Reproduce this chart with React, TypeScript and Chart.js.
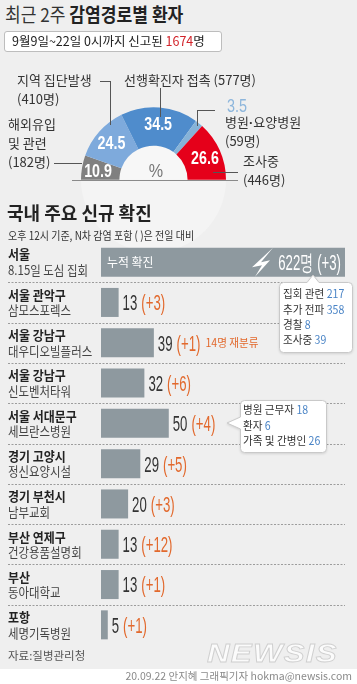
import React, { useEffect, useRef } from "react";
import { Chart, registerables } from "chart.js";

Chart.register(...registerables);

const KR = "'Noto Sans CJK KR', 'Noto Sans', sans-serif";
const NUM = "'Liberation Sans', Arial, sans-serif";

// ---- donut: infection routes (last 2 weeks) ----
const routeLabels = ["해외유입 및 관련", "지역 집단발생", "선행확진자 접촉", "병원·요양병원", "조사중"];
const routeShares = [10.9, 24.5, 34.5, 3.5, 26.6];
const routeCounts = [182, 410, 577, 59, 446];
const routeColors = ["#808080", "#7eaadc", "#4f8ccc", "#86b3d8", "#e5001a"];
const totalReported = 1674;

// ---- bars: domestic clusters ----
const clusterRegions = ["서울", "서울 관악구", "서울 강남구", "서울 강남구", "서울 서대문구", "경기 고양시", "경기 부천시", "부산 연제구", "부산", "포항"];
const clusterPlaces = ["8.15일 도심 집회", "삼모스포렉스", "대우디오빌플러스", "신도벤처타워", "세브란스병원", "정신요양시설", "남부교회", "건강용품설명회", "동아대학교", "세명기독병원"];
const clusterTotals = [622, 13, 39, 32, 50, 29, 20, 13, 13, 5];
const clusterDeltas = [3, 3, 1, 6, 4, 5, 3, 12, 1, 1];
const clusterNotes = ["", "", "14명 재분류", "", "", "", "", "", "", ""];
const axisMax = 180;

const rallyLabels = ["집회 관련", "추가 전파", "경찰", "조사중"];
const rallyValues = [217, 358, 8, 39];
const severanceLabels = ["병원 근무자", "환자", "가족 및 간병인"];
const severanceValues = [18, 6, 26];

function drawText(
  ctx: CanvasRenderingContext2D,
  text: string,
  x: number,
  cy: number,
  size: number,
  weight: string,
  family: string,
  color: string,
  sx: number,
  kind: "num" | "kr",
  align: "left" | "right" | "center" = "left"
) {
  ctx.save();
  ctx.font = `${weight} ${size}px ${family}`;
  ctx.fillStyle = color;
  ctx.textBaseline = "alphabetic";
  ctx.textAlign = "left";
  const w = ctx.measureText(text).width * sx;
  let xx = x;
  if (align === "right") xx = x - w;
  if (align === "center") xx = x - w / 2;
  const base = cy + (kind === "num" ? 0.358 : 0.37) * size;
  ctx.translate(xx, base);
  ctx.scale(sx, 1);
  ctx.fillText(text, 0, 0);
  ctx.restore();
  return w;
}

const donutDecor = {
  id: "donutDecor",
  beforeDatasetsDraw(chart: any) {
    const { ctx } = chart;
    const a = chart.getDatasetMeta(0).data[0];
    ctx.save();
    ctx.fillStyle = "#f4f4f4";
    ctx.beginPath();
    ctx.arc(a.x, a.y, a.outerRadius, Math.PI, Math.PI * 3);
    ctx.fill();
    ctx.fillStyle = "#f7f7f7";
    ctx.beginPath();
    ctx.arc(a.x, a.y, a.innerRadius, Math.PI, Math.PI * 2);
    ctx.fill();
    ctx.restore();
  },
  afterDatasetsDraw(chart: any) {
    const { ctx } = chart;
    const arcs = chart.getDatasetMeta(0).data;
    const c = arcs[0];
    ctx.save();
    ctx.strokeStyle = "#8a8a8a";
    ctx.lineWidth = 1;
    ctx.beginPath();
    ctx.moveTo(c.x - c.outerRadius - 9, Math.round(c.y) + 0.5);
    ctx.lineTo(c.x + c.outerRadius + 12, Math.round(c.y) + 0.5);
    ctx.stroke();
    ctx.restore();
    arcs.forEach((a: any, i: number) => {
      if (routeShares[i] < 5) return;
      const mid = (a.startAngle + a.endAngle) / 2;
      const r = (a.innerRadius + a.outerRadius) / 2 + 3;
      drawText(ctx, String(routeShares[i]), a.x + r * Math.cos(mid), a.y + r * Math.sin(mid), 19, "bold", NUM, "#fff", 0.75, "num", "center");
    });
    drawText(ctx, "%", c.x + 2.5, c.y - 10, 19, "normal", NUM, "#777", 0.85, "num", "center");
  },
};

const barDecor = {
  id: "barDecor",
  beforeDatasetsDraw(chart: any) {
    const { ctx, chartArea, scales } = chart;
    const ys = scales.y;
    ctx.save();
    ctx.strokeStyle = "#9c9c9c";
    ctx.lineWidth = 1;
    ctx.setLineDash([2, 1.5]);
    for (let i = 0; i < clusterTotals.length - 1; i++) {
      const yy = Math.round((ys.getPixelForValue(i) + ys.getPixelForValue(i + 1)) / 2) + 0.5;
      ctx.beginPath();
      ctx.moveTo(8, yy);
      ctx.lineTo(chartArea.right, yy);
      ctx.stroke();
    }
    ctx.restore();
  },
  afterDatasetsDraw(chart: any) {
    const { ctx, chartArea, scales } = chart;
    const ys = scales.y;
    const meta = chart.getDatasetMeta(0);
    clusterTotals.forEach((v, i) => {
      const cy = ys.getPixelForValue(i);
      drawText(ctx, clusterRegions[i], 8, cy - 7.5, 13, "bold", KR, "#222", 0.92, "kr");
      drawText(ctx, clusterPlaces[i], 8, cy + 8, 13, "normal", KR, "#444", 0.88, "kr");
      const bar = meta.data[i];
      const h = bar.height;
      if (v > axisMax) {
        drawText(ctx, "누적 확진", chartArea.left + 6, cy, 12.5, "normal", KR, "#fff", 0.95, "kr");
        const r = chartArea.right;
        const t = cy - h / 2;
        const b = cy + h / 2;
        ctx.save();
        ctx.fillStyle = "#fff";
        ctx.beginPath();
        ctx.moveTo(r - 72, t);
        ctx.lineTo(r - 93, cy + 5);
        ctx.lineTo(r - 83, cy + 3);
        ctx.lineTo(r - 90, b);
        ctx.lineTo(r - 75, cy - 2);
        ctx.lineTo(r - 84, cy);
        ctx.closePath();
        ctx.fill();
        ctx.restore();
        drawText(ctx, `${v}명 (+${clusterDeltas[i]})`, r - 4, cy, 22, "normal", NUM, "#fff", 0.6, "num", "right");
      } else {
        let x = bar.x + 4;
        x += drawText(ctx, String(v), x, cy, 22, "normal", NUM, "#333", 0.6, "num");
        x += 4;
        x += drawText(ctx, `(+${clusterDeltas[i]})`, x, cy, 22, "normal", NUM, "#e2692d", 0.6, "num");
        if (clusterNotes[i]) drawText(ctx, clusterNotes[i], x + 5, cy, 11.5, "normal", KR, "#e2692d", 0.92, "kr");
      }
    });
  },
};

function Txt(props: any) {
  const { x, y, size, color = "#333", weight = 400, sx = 1, family = KR, children, right, style } = props;
  const pos: any = right !== undefined ? { right } : { left: x };
  return (
    <div
      style={{
        position: "absolute",
        ...pos,
        top: y - size * 0.66,
        fontSize: size,
        lineHeight: `${size * 1.2}px`,
        fontFamily: family,
        fontWeight: weight,
        color,
        whiteSpace: "nowrap",
        transform: sx !== 1 ? `scaleX(${sx})` : undefined,
        transformOrigin: right !== undefined ? "right center" : "left center",
        ...style,
      }}
    >
      {children}
    </div>
  );
}

function Line({ x1, y1, x2, y2 }: any) {
  return (
    <div
      style={{
        position: "absolute",
        left: Math.min(x1, x2),
        top: Math.min(y1, y2),
        width: Math.max(1, Math.abs(x2 - x1)),
        height: Math.max(1, Math.abs(y2 - y1)),
        background: "#555",
      }}
    />
  );
}

export default function App() {
  const donutRef = useRef<HTMLCanvasElement>(null);
  const barRef = useRef<HTMLCanvasElement>(null);

  useEffect(() => {
    const donut = new Chart(donutRef.current!, {
      type: "doughnut",
      data: {
        labels: routeLabels,
        datasets: [{ data: routeShares, backgroundColor: routeColors, borderWidth: 0 }],
      },
      options: {
        responsive: false,
        animation: false,
        rotation: -90,
        circumference: 180,
        cutout: "47%",
        layout: { padding: { left: 12, right: 14, top: 0, bottom: 73 } },
        plugins: { legend: { display: false }, tooltip: { enabled: false } },
        events: [],
      } as any,
      plugins: [donutDecor],
    });
    const bars = new Chart(barRef.current!, {
      type: "bar",
      data: {
        labels: clusterPlaces,
        datasets: [
          {
            data: clusterTotals,
            backgroundColor: "#8e999f",
            borderWidth: 0,
            barPercentage: 0.72,
            categoryPercentage: 1,
          },
        ],
      },
      options: {
        indexAxis: "y",
        responsive: false,
        animation: false,
        layout: { padding: { left: 101, right: 12, top: 2, bottom: 5 } },
        scales: {
          x: { display: false, min: 0, max: axisMax },
          y: { display: false },
        },
        plugins: { legend: { display: false }, tooltip: { enabled: false } },
        events: [],
      } as any,
      plugins: [barDecor],
    });
    return () => {
      donut.destroy();
      bars.destroy();
    };
  }, []);

  const blue = "#4a84c6";
  const [hosp1, hosp2] = routeLabels[3].split("·");

  return (
    <div style={{ position: "absolute", left: 0, top: 0, width: 357, height: 684, background: "#efefef", overflow: "hidden", fontFamily: KR }}>
      <canvas ref={donutRef} width={171} height={146} style={{ position: "absolute", left: 69, top: 107, width: 171, height: 146 }} />

      {/* header */}
      <Txt x={5} y={16} size={19} sx={0.9} color="#333">
        최근 2주 <span style={{ fontWeight: 700, color: "#222" }}>감염경로별 환자</span>
      </Txt>
      <div style={{ position: "absolute", left: 4, top: 31, width: 216, height: 19, background: "#fff", border: "1px solid #bdbdbd", borderRadius: 3 }} />
      <Txt x={12} y={41} size={12.5} color="#222">
        9월9일~22일 0시까지 신고된 <span style={{ color: "#d2232a" }}>{totalReported}</span>명
      </Txt>

      {/* donut labels */}
      <Txt x={17} y={81} size={13}>{routeLabels[1]}</Txt>
      <Txt x={17} y={100} size={13}>({routeCounts[1]}명)</Txt>
      <Txt x={124} y={81} size={13}>{routeLabels[2]} ({routeCounts[2]}명)</Txt>
      <Txt x={227} y={108} size={18} family={NUM} sx={0.8} color="#8db6dc">{routeShares[3]}</Txt>
      <Txt x={225} y={123} size={13}>
        {hosp1}<span style={{ fontFamily: NUM, fontWeight: 700 }}>·</span>{hosp2}
      </Txt>
      <Txt x={225} y={142} size={13}>({routeCounts[3]}명)</Txt>
      <Txt x={8} y={125} size={13}>해외유입</Txt>
      <Txt x={8} y={144} size={13}>및 관련</Txt>
      <Txt x={8} y={163} size={13}>({routeCounts[0]}명)</Txt>
      <Txt x={243} y={162} size={13}>{routeLabels[4]}</Txt>
      <Txt x={243} y={181} size={13}>({routeCounts[4]}명)</Txt>

      <Line x1={100} y1={81} x2={110} y2={81} />
      <Line x1={110} y1={81} x2={110} y2={125} />
      <Line x1={160} y1={88} x2={160} y2={117} />
      <Line x1={197} y1={110} x2={197} y2={126} />
      <Line x1={197} y1={110} x2={215} y2={110} />
      <Line x1={54} y1={163} x2={82} y2={163} />
      <Line x1={213} y1={172} x2={238} y2={172} />

      {/* second section header */}
      <Txt x={7} y={214} size={18} weight={700} color="#222">국내 주요 신규 확진</Txt>
      <Txt x={8} y={237} size={11.5} sx={0.87} color="#333">오후 12시 기준, N차 감염 포함 ( )은 전일 대비</Txt>

      <canvas ref={barRef} width={357} height={410} style={{ position: "absolute", left: 0, top: 240, width: 357, height: 410 }} />

      {/* callouts */}
      <svg width={357} height={684} style={{ position: "absolute", left: 0, top: 0, filter: "drop-shadow(0 1px 1px rgba(0,0,0,0.12))" }}>
        <path
          d="M283.5 282.5 H307 L313 275 L319 282.5 H348.5 Q352.5 282.5 352.5 286.5 V348.5 Q352.5 352.5 348.5 352.5 H283.5 Q279.5 352.5 279.5 348.5 V286.5 Q279.5 282.5 283.5 282.5 Z"
          fill="#fff"
          stroke="#c9c9c9"
        />
        <path
          d="M244.5 400.5 H322.5 Q326.5 400.5 326.5 404.5 V448.5 Q326.5 452.5 322.5 452.5 H244.5 Q240.5 452.5 240.5 448.5 V429 L227 423 L240.5 417 V404.5 Q240.5 400.5 244.5 400.5 Z"
          fill="#fff"
          stroke="#c9c9c9"
        />
      </svg>
      {rallyLabels.map((l, i) => (
        <Txt key={l} x={283} y={295 + i * 15.3} size={11.5} sx={0.92} color="#333">
          {l} <span style={{ color: blue }}>{rallyValues[i]}</span>
        </Txt>
      ))}
      {severanceLabels.map((l, i) => (
        <Txt key={l} x={243} y={410.5 + i * 15.6} size={11.5} sx={0.92} color="#333">
          {l} <span style={{ color: blue }}>{severanceValues[i]}</span>
        </Txt>
      ))}

      {/* footer */}
      <Txt x={8} y={657} size={11.5} color="#555">자료:질병관리청</Txt>
      <Txt
        x={207}
        y={654}
        size={25}
        family={NUM}
        weight={700}
        sx={1.25}
        color="#fbfbfb"
        style={{ fontStyle: "italic", letterSpacing: 1, WebkitTextStroke: "0.8px #cfcfcf" }}
      >
        NEWSIS
      </Txt>
      <div style={{ position: "absolute", left: 0, top: 669, width: 357, height: 15, background: "#fff" }} />
      <Txt right={5} y={677} size={10.5} color="#8a8a8a">20.09.22 안지혜 그래픽기자 hokma@newsis.com</Txt>
    </div>
  );
}
